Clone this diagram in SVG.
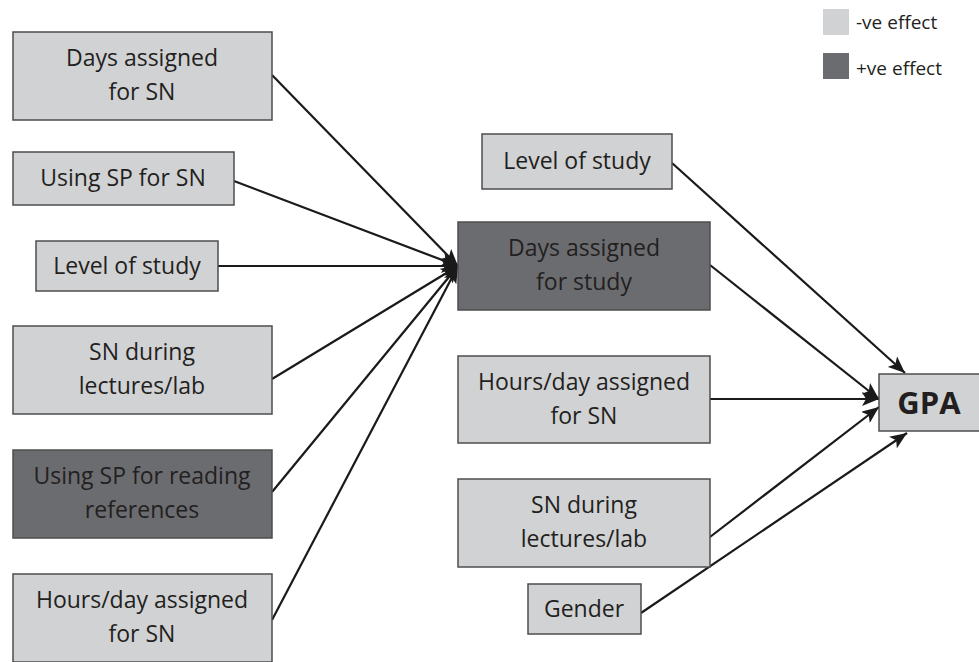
<svg xmlns="http://www.w3.org/2000/svg" width="979" height="662" viewBox="0 0 979 662">
<defs>
<style>
.lt{fill:#d1d2d4;stroke:#4d4d4f;stroke-width:1.5}
.dk{fill:#6b6c70;stroke:#4d4d4f;stroke-width:1.5}
text{font-family:"Open Sans","Noto Sans",sans-serif;font-size:23px;fill:#231f20;text-anchor:middle}
.lg{font-size:19px;text-anchor:start}
.gpa{font-size:31px;font-weight:bold}
.c line{stroke:#1a1a1a;stroke-width:2.2;marker-end:url(#ah)}
</style>
<marker id="ah" markerWidth="18" markerHeight="14" refX="17" refY="7" orient="auto" markerUnits="userSpaceOnUse">
<path d="M0,0 L17,7 L0,14 L4,7 z" fill="#1a1a1a"/>
</marker>
</defs>
<rect width="979" height="662" fill="#ffffff"/>
<g id="legend">
<rect x="823" y="9" width="26" height="26" fill="#d1d2d4"/>
<text class="lg" x="856" y="29">-ve effect</text>
<rect x="823" y="53" width="26" height="26" fill="#6b6c70"/>
<text class="lg" x="856" y="75">+ve effect</text>
</g>
<g class="c" id="connectors">
<line x1="272" y1="75" x2="458" y2="266"/>
<line x1="234" y1="181" x2="458" y2="266"/>
<line x1="218" y1="266" x2="458" y2="266"/>
<line x1="272" y1="379" x2="458" y2="266"/>
<line x1="272" y1="492" x2="458" y2="266"/>
<line x1="272" y1="620" x2="458" y2="266"/>
<line x1="672" y1="163" x2="905" y2="373"/>
<line x1="710" y1="265" x2="879" y2="399"/>
<line x1="710" y1="399" x2="879" y2="399"/>
<line x1="710" y1="537" x2="879" y2="407"/>
<line x1="641" y1="613" x2="907" y2="433"/>
</g>
<g id="n1"><rect class="lt" x="13" y="32" width="259" height="88"/><text x="142" y="66">Days assigned</text><text x="142" y="100">for SN</text></g>
<g id="n2"><rect class="lt" x="13" y="152" width="221" height="53"/><text x="123" y="186">Using SP for SN</text></g>
<g id="n3"><rect class="lt" x="36" y="241" width="182" height="50"/><text x="127" y="274">Level of study</text></g>
<g id="n4"><rect class="lt" x="13" y="326" width="259" height="88"/><text x="142" y="360">SN during</text><text x="142" y="394">lectures/lab</text></g>
<g id="n5"><rect class="dk" x="13" y="450" width="259" height="88"/><text x="142" y="484">Using SP for reading</text><text x="142" y="518">references</text></g>
<g id="n6"><rect class="lt" x="13" y="574" width="259" height="88"/><text x="142" y="608">Hours/day assigned</text><text x="142" y="642">for SN</text></g>
<g id="n7"><rect class="lt" x="482" y="134" width="190" height="55"/><text x="577" y="169">Level of study</text></g>
<g id="n8"><rect class="dk" x="458" y="222" width="252" height="88"/><text x="584" y="256">Days assigned</text><text x="584" y="290">for study</text></g>
<g id="n9"><rect class="lt" x="458" y="356" width="252" height="87"/><text x="584" y="390">Hours/day assigned</text><text x="584" y="424">for SN</text></g>
<g id="n10"><rect class="lt" x="458" y="479" width="252" height="88"/><text x="584" y="513">SN during</text><text x="584" y="547">lectures/lab</text></g>
<g id="n11"><rect class="lt" x="528" y="584" width="113" height="50"/><text x="584" y="617">Gender</text></g>
<g id="n12"><rect class="lt" x="879" y="374" width="105" height="57"/><text class="gpa" x="929" y="414">GPA</text></g>
</svg>
